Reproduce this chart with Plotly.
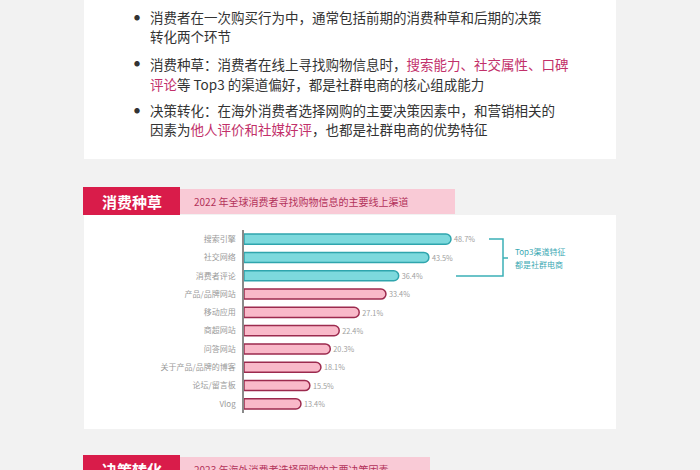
import plotly.graph_objects as go

W, H = 700, 470

categories = ["搜索引擎", "社交网络", "消费者评论", "产品/品牌网站", "移动应用",
              "商超网站", "问答网站", "关于产品/品牌的博客", "论坛/留言板", "Vlog"]
values = [48.7, 43.5, 36.4, 33.4, 27.1, 22.4, 20.3, 18.1, 15.5, 13.4]
top3_count = 3

bullet_lines = [
    ["消费者在一次购买行为中，通常包括前期的消费种草和后期的决策", "转化两个环节"],
    ["消费种草：消费者在线上寻找购物信息时，<span style='color:#c2306a'>搜索能力、社交属性、口碑</span>",
     "<span style='color:#c2306a'>评论</span>等 Top3 的渠道偏好，都是社群电商的核心组成能力"],
    ["决策转化：在海外消费者选择网购的主要决策因素中，和营销相关的",
     "因素为<span style='color:#c2306a'>他人评价和社媒好评</span>，也都是社群电商的优势特征"],
]
header1_tag = "消费种草"
header1_title = "2022 年全球消费者寻找购物信息的主要线上渠道"
header2_tag = "决策转化"
header2_title = "2023 年海外消费者选择网购的主要决策因素"
bracket_text = ["Top3渠道特征", "都是社群电商"]

FONT = "Noto Sans CJK SC"
TEAL_FILL, TEAL_LINE = "#7dd9dd", "#2fa5ad"
PINK_FILL, PINK_LINE = "#f9b9c9", "#9c2a4e"
RED = "#d91c4a"
PINK_BOX = "#f9cad6"


def px(x):
    return x / W


def py(y):
    return 1 - y / H


fills = [TEAL_FILL if i < top3_count else PINK_FILL for i in range(len(values))]
lines = [TEAL_LINE if i < top3_count else PINK_LINE for i in range(len(values))]

fig = go.Figure(go.Bar(
    y=categories, x=values, orientation="h",
    marker=dict(color=fills, line=dict(color=lines, width=1.5), cornerradius=5),
    text=[f"{v}%" for v in values], textposition="outside",
    textfont=dict(size=8, color="#a0a0a0", family=FONT),
    cliponaxis=False, hoverinfo="skip",
))

shapes = [
    dict(type="rect", xref="paper", yref="paper", x0=px(84), x1=px(616), y0=py(0), y1=py(159),
         fillcolor="white", line=dict(width=0), layer="below"),
    dict(type="rect", xref="paper", yref="paper", x0=px(84), x1=px(616), y0=py(215), y1=py(429),
         fillcolor="white", line=dict(width=0), layer="below"),
    dict(type="rect", xref="paper", yref="paper", x0=px(180), x1=px(455), y0=py(189), y1=py(214),
         fillcolor=PINK_BOX, line=dict(width=0), layer="below"),
    dict(type="rect", xref="paper", yref="paper", x0=px(83), x1=px(180), y0=py(187), y1=py(215),
         fillcolor=RED, line=dict(width=0), layer="below"),
    dict(type="rect", xref="paper", yref="paper", x0=px(180), x1=px(430), y0=py(457), y1=py(480),
         fillcolor=PINK_BOX, line=dict(width=0), layer="below"),
    dict(type="rect", xref="paper", yref="paper", x0=px(83), x1=px(180), y0=py(455), y1=py(480),
         fillcolor=RED, line=dict(width=0), layer="below"),
    # bracket
    dict(type="path", xref="paper", yref="paper",
         path=f"M {px(489)},{py(239)} L {px(503)},{py(239)} L {px(503)},{py(276)} L {px(456)},{py(276)}",
         line=dict(color="#3bb0b6", width=1.5)),
    dict(type="line", xref="paper", yref="paper", x0=px(503), x1=px(508), y0=py(258), y1=py(258),
         line=dict(color="#3bb0b6", width=1.5)),
]

annotations = []
line_y = [[17, 36], [64, 84], [110, 129]]
for lines_pair, ys in zip(bullet_lines, line_y):
    annotations.append(dict(xref="paper", yref="paper", x=px(137), y=py(ys[0]), text="●",
                            showarrow=False, xanchor="center", yanchor="middle",
                            font=dict(size=6, color="#333333", family=FONT)))
    for t, yy in zip(lines_pair, ys):
        annotations.append(dict(xref="paper", yref="paper", x=px(148), y=py(yy), text=t,
                                showarrow=False, xanchor="left", yanchor="middle",
                                font=dict(size=13.5, color="#333333", family=FONT)))

annotations += [
    dict(xref="paper", yref="paper", x=px(131.5), y=py(201), text=f"<b>{header1_tag}</b>",
         showarrow=False, xanchor="center", yanchor="middle",
         font=dict(size=15, color="white", family=FONT)),
    dict(xref="paper", yref="paper", x=px(192), y=py(201.5), text=header1_title,
         showarrow=False, xanchor="left", yanchor="middle",
         font=dict(size=10, color="#b3325a", family=FONT)),
    dict(xref="paper", yref="paper", x=px(131.5), y=py(469), text=f"<b>{header2_tag}</b>",
         showarrow=False, xanchor="center", yanchor="middle",
         font=dict(size=15, color="white", family=FONT)),
    dict(xref="paper", yref="paper", x=px(192), y=py(469), text=header2_title,
         showarrow=False, xanchor="left", yanchor="middle",
         font=dict(size=10, color="#b3325a", family=FONT)),
    dict(xref="paper", yref="paper", x=px(513), y=py(251.5), text=bracket_text[0],
         showarrow=False, xanchor="left", yanchor="middle",
         font=dict(size=8, color="#3aa9b3", family=FONT)),
    dict(xref="paper", yref="paper", x=px(513), y=py(264), text=bracket_text[1],
         showarrow=False, xanchor="left", yanchor="middle",
         font=dict(size=8, color="#3aa9b3", family=FONT)),
]

fig.update_layout(
    width=W, height=H, margin=dict(l=0, r=0, t=0, b=0),
    paper_bgcolor="#f2f2f2", plot_bgcolor="rgba(0,0,0,0)",
    showlegend=False, bargap=0.45,
    font=dict(family=FONT),
    shapes=shapes, annotations=annotations,
    xaxis=dict(domain=[px(244), px(499)], range=[0, 60], visible=False, fixedrange=True),
    yaxis=dict(domain=[py(413), py(230)], autorange="reversed", showline=True,
               linecolor="#8a8a8a", linewidth=1.5, showgrid=False, ticks="",
               ticklabelstandoff=5, zeroline=False,
               tickfont=dict(size=8, color="#9a9a9a", family=FONT), fixedrange=True),
)

fig.write_html("out.html", config={"displayModeBar": False})

with open("out.html", "r", encoding="utf-8") as f:
    html = f.read()
html = html.replace("<body>", "<body style=\"margin:0;padding:0;overflow:hidden;background:#f2f2f2\">", 1)
with open("out.html", "w", encoding="utf-8") as f:
    f.write(html)
